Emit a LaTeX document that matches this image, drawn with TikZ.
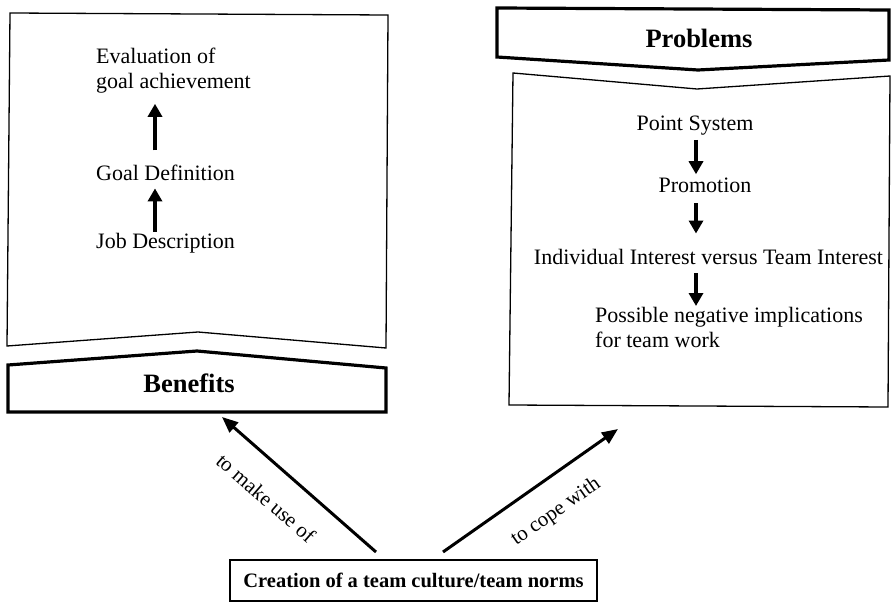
\documentclass[tikz,border=0pt]{standalone}
\usepackage{fontspec}
\setmainfont{Liberation Serif}
\usetikzlibrary{arrows.meta}
\begin{document}
\begin{tikzpicture}[x=1pt,y=-1pt,
  thinbox/.style={draw=black,line width=1.3pt,line join=miter},
  thickbox/.style={draw=black,line width=3.2pt,line join=miter},
  txt/.style={inner sep=0pt,font=\fontsize{22}{25}\selectfont},
  btxt/.style={inner sep=0pt,font=\fontsize{26.5}{30}\selectfont\bfseries},
  ctxt/.style={inner sep=0pt,font=\fontsize{20.5}{24}\selectfont\bfseries},
  lbl/.style={inner sep=0pt,font=\fontsize{21}{24}\selectfont},
  vertarr/.style={line width=3.5pt,-{Triangle[length=13pt,width=14pt]}},
  diagarr/.style={line width=3pt,-{Triangle[length=16pt,width=13pt]}}
]
\useasboundingbox (0,0) rectangle (892,602);
% left big box
\draw[thinbox] (10,13) -- (388,15) -- (386,348) -- (198,332) -- (7,346) -- cycle;
% Benefits box
\draw[thickbox] (8,365) -- (197,351) -- (386,368) -- (386,412) -- (8,412) -- cycle;
\node[btxt] (ben) at (189,383) {Benefits};
% Problems box
\draw[thickbox] (497,8) -- (889,10) -- (889,60) -- (698,70) -- (497,57) -- cycle;
\node[btxt] (prob) at (699,38) {Problems};
% right big box
\draw[thinbox] (513,73) -- (697,89) -- (890,76) -- (888,407) -- (509,405) -- cycle;
% creation box
\node[ctxt,draw=black,line width=1.3pt,minimum width=367pt,minimum height=41pt] (cr) at (413.5,580.5) {Creation of a team culture/team norms};

% left texts
\node[txt,align=left,anchor=west] (ev) at (96,71) {Evaluation of\\goal achievement};
\node[txt,anchor=base west] (gd) at (96,180) {Goal Definition};
\node[txt,anchor=base west] (jd) at (96,248) {Job Description};
\coordinate (ax) at (155,0);
\draw[vertarr] ([yshift=1pt]jd.north -| ax) -- ([yshift=-8pt]gd.south -| ax);
\draw[vertarr] ([yshift=14pt]gd.north -| ax) -- ([yshift=-10pt]ev.south -| ax);

% right texts
\node[txt,anchor=base] (ps) at (695,130) {Point System};
\node[txt,anchor=base] (pr) at (705,192) {Promotion};
\node[txt,anchor=base] (ii) at (708.5,264) {Individual Interest versus Team Interest};
\node[txt,align=left,anchor=north west] (pn) at (595,307) {Possible negative implications\\for team work};
\coordinate (bx) at (696,0);
\draw[vertarr] ([yshift=-5pt]ps.south -| bx) -- ([yshift=3pt]pr.north -| bx);
\draw[vertarr] ([yshift=-11pt]pr.south -| bx) -- ([yshift=15pt]ii.north -| bx);
\draw[vertarr] ([yshift=-9pt]ii.south -| bx) -- ([yshift=1pt]pn.north -| bx);

% diagonal arrows
\coordinate (s1) at (376,552);
\coordinate (e1) at (222,417);
\coordinate (s2) at (443,552);
\coordinate (e2) at (618,429);
\draw[diagarr] (s1) -- (e1);
\draw[diagarr] (s2) -- (e2);
\node[lbl,rotate=-41] (l1) at (266,498) {to make use of};
\node[lbl,rotate=35] (l2) at (556,512) {to cope with};
\end{tikzpicture}
\end{document}
